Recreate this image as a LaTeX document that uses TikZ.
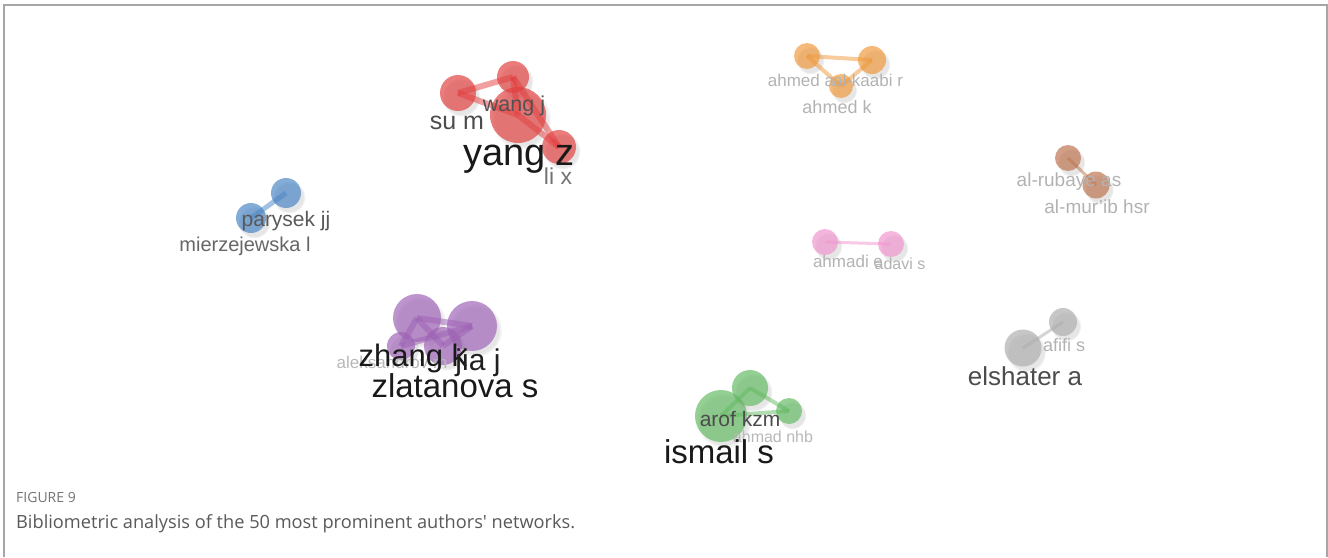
\documentclass[tikz,border=0pt]{standalone}
\usepackage{fontspec}
\setmainfont{Liberation Sans}
\newfontfamily\capfont{Open Sans}
\usetikzlibrary{shadows}

\definecolor{clred}{RGB}{226,62,62}
\definecolor{clblue}{RGB}{72,132,196}
\definecolor{clpurple}{RGB}{158,98,182}
\definecolor{clgreen}{RGB}{98,186,98}
\definecolor{clorange}{RGB}{240,152,58}
\definecolor{clbrown}{RGB}{188,114,76}
\definecolor{clpink}{RGB}{240,148,206}
\definecolor{clgray}{RGB}{172,172,172}

\tikzset{
  au/.style 2 args={circle, inner sep=0pt, minimum size=#2, fill=#1, fill opacity=0.68,
    circular drop shadow={shadow xshift=3pt, shadow yshift=-4pt, shadow scale=1.08, opacity=0.2}},
  link/.style={draw=#1, line width=5pt, draw opacity=0.5},
  lab/.style 2 args={anchor=base, inner sep=0pt, text=#1, font=\fontsize{#2}{#2}\selectfont},
}

\begin{document}
\begin{tikzpicture}[x=1pt, y=-1pt]
  \useasboundingbox (0,0) rectangle (1328,557);
  % 边框
  \draw[black!35, line width=1.5pt] (4,557) -- (4,5) -- (1327,5) -- (1327,557);

  % 红色聚类
  \node[au={clred}{36pt}] (sum) at (458,93) {};
  \node[au={clred}{32pt}] (wangj) at (513,77) {};
  \node[au={clred}{56pt}] (yangz) at (518,115) {};
  \node[au={clred}{34pt}] (lix) at (559,147) {};
  \foreach \a/\b in {sum/wangj, sum/yangz, wangj/yangz, yangz/lix, wangj/lix}
    \draw[link=clred, line width=6pt] (\a.center) -- (\b.center);

  % 蓝色聚类
  \node[au={clblue}{30pt}] (parysek) at (286,193) {};
  \node[au={clblue}{30pt}] (mierz) at (251,218) {};
  \draw[link=clblue] (parysek.center) -- (mierz.center);

  % 紫色聚类
  \node[au={clpurple}{48pt}] (zhangk) at (417,318) {};
  \node[au={clpurple}{50pt}] (jiaj) at (472,326) {};
  \node[au={clpurple}{28pt}] (aleks) at (401,346) {};
  \node[au={clpurple}{38pt}] (zlat) at (443,346) {};
  \foreach \a/\b in {zhangk/jiaj, zhangk/aleks, zhangk/zlat, jiaj/zlat, aleks/jiaj}
    \draw[link=clpurple, line width=6pt] (\a.center) -- (\b.center);

  % 绿色聚类
  \node[au={clgreen}{52pt}] (ismail) at (721,416) {};
  \node[au={clgreen}{36pt}] (arof) at (750,388) {};
  \node[au={clgreen}{26pt}] (ahmad) at (789,411) {};
  \foreach \a/\b in {ismail/arof, arof/ahmad, ismail/ahmad}
    \draw[link=clgreen, line width=4pt] (\a.center) -- (\b.center);

  % 橙色聚类
  \node[au={clorange}{26pt}] (ahmeda) at (807,56) {};
  \node[au={clorange}{28pt}] (alkaabi) at (872,60) {};
  \node[au={clorange}{24pt}] (ahmedk) at (841,86) {};
  \foreach \a/\b in {ahmeda/alkaabi, ahmeda/ahmedk, alkaabi/ahmedk}
    \draw[link=clorange, line width=4pt] (\a.center) -- (\b.center);

  % 棕色聚类
  \node[au={clbrown}{26pt}] (alrubaye) at (1068,158) {};
  \node[au={clbrown}{27pt}] (almurib) at (1096,185) {};
  \draw[link=clbrown, line width=3pt] (alrubaye.center) -- (almurib.center);

  % 粉色聚类
  \node[au={clpink}{26pt}] (ahmadi) at (825,242) {};
  \node[au={clpink}{26pt}] (adavi) at (891,244) {};
  \draw[link=clpink, line width=3pt] (ahmadi.center) -- (adavi.center);

  % 灰色聚类
  \node[au={clgray}{28pt}] (afifi) at (1063,322) {};
  \node[au={clgray}{37pt}] (elshater) at (1023,348) {};
  \draw[link=clgray, line width=3pt] (afifi.center) -- (elshater.center);

  % 作者标签
  \node[lab={black!68}{21.5}] (l-wangj) at (514,111) {wang j};
  \node[lab={black!70}{25}] (l-sum) at (457,129) {su m};
  \node[lab={black!90}{38}] (l-yangz) at (519,165) {yang z};
  \node[lab={black!55}{23}] (l-lix) at (558,184) {li x};

  \node[lab={black!65}{21}] (l-parysek) at (286,226) {parysek jj};
  \node[lab={black!60}{20}] (l-mierz) at (245,251) {mierzejewska l};

  \node[lab={black!28}{17}] (l-aleks) at (392,368) {aleksandrov m};
  \node[lab={black!90}{31}] (l-zhangk) at (413,366) {zhang k};
  \node[lab={black!88}{30}] (l-jiaj) at (478,370) {jia j};
  \node[lab={black!90}{33}] (l-zlat) at (455,397) {zlatanova s};

  \node[lab={black!70}{21}] (l-arof) at (740,426) {arof kzm};
  \node[lab={black!28}{16}] (l-ahmad) at (773,442) {ahmad nhb};
  \node[lab={black!90}{33}] (l-ismail) at (719,463) {ismail s};

  \node[lab={black!30}{17}] (l-ahmeda) at (801,86) {ahmed a};
  \node[lab={black!30}{17}] (l-alkaabi) at (868,86) {al-kaabi r};
  \node[lab={black!30}{18}] (l-ahmedk) at (837,113) {ahmed k};

  \node[lab={black!30}{19}] (l-alrubaye) at (1069,186) {al-rubaye as};
  \node[lab={black!30}{19}] (l-almurib) at (1097,213) {al-mur'ib hsr};

  \node[lab={black!30}{17}] (l-ahmadi) at (848,267) {ahmadi e};
  \node[lab={black!30}{16}] (l-adavi) at (900,269) {adavi s};

  \node[lab={black!30}{18}] (l-afifi) at (1064,351) {afifi s};
  \node[lab={black!70}{26}] (l-elshater) at (1025,385) {elshater a};

  % 图题
  \node[anchor=base west, inner sep=0pt, text=black!55, font=\capfont\fontsize{14}{14}\selectfont]
    (figno) at (16,502) {FIGURE 9};
  \node[anchor=base west, inner sep=0pt, text=black!65, font=\capfont\fontsize{18.2}{18.2}\selectfont]
    (caption) at (16,528) {Bibliometric analysis of the 50 most prominent authors' networks.};
\end{tikzpicture}
\end{document}
